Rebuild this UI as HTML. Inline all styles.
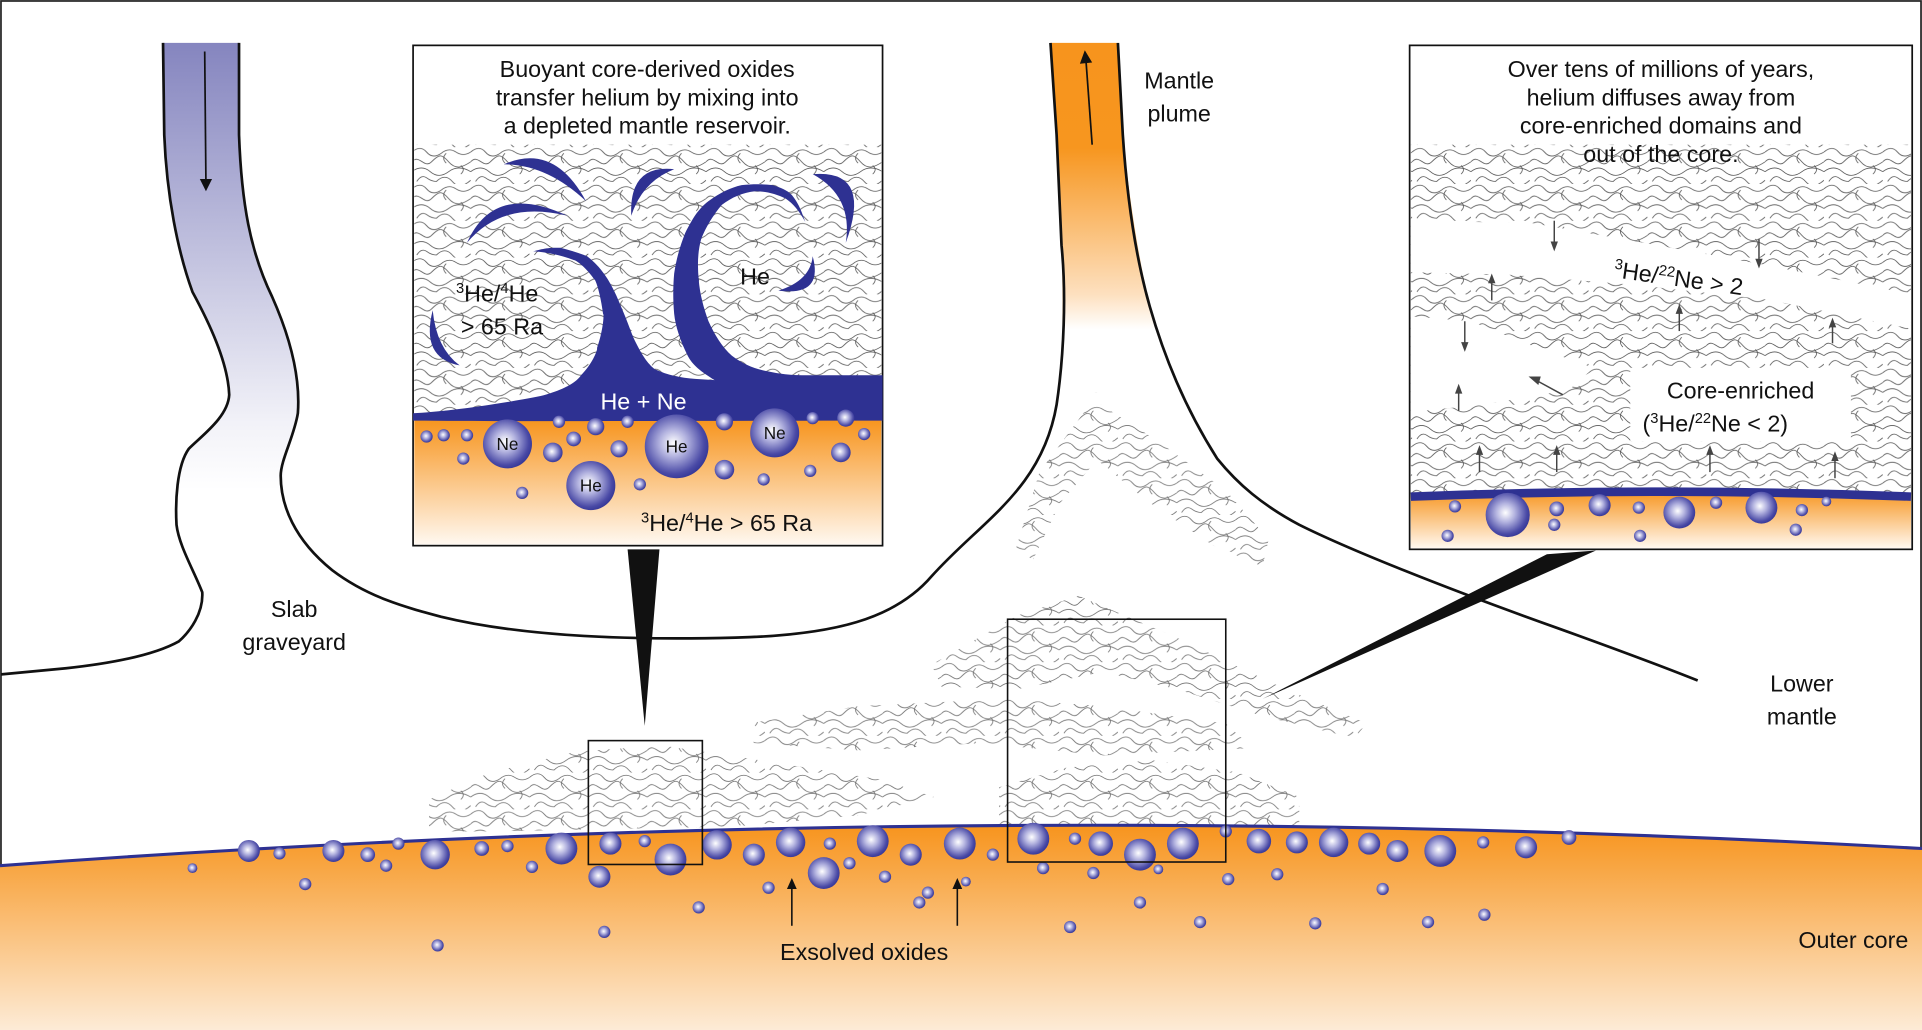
<!DOCTYPE html>
<html><head><meta charset="utf-8"><style>
html,body{margin:0;padding:0;background:#fff;}
svg{display:block;}
text{font-family:"Liberation Sans",Arial,sans-serif;fill:#111;}
</style></head><body>
<svg width="1922" height="1030" viewBox="0 0 1568 840" preserveAspectRatio="none" xmlns="http://www.w3.org/2000/svg">
<defs>
<linearGradient id="slab" x1="0" y1="0" x2="0" y2="1"><stop offset="0" stop-color="#8585bf"/><stop offset="0.85" stop-color="#f2f2f8"/><stop offset="1" stop-color="#fff"/></linearGradient>
<linearGradient id="plume" x1="0" y1="0" x2="0" y2="1"><stop offset="0" stop-color="#f7941d"/><stop offset="0.3" stop-color="#f7961f"/><stop offset="0.72" stop-color="#fde0bf"/><stop offset="0.82" stop-color="#fff"/></linearGradient>
<linearGradient id="core" x1="0" y1="0" x2="0" y2="1"><stop offset="0" stop-color="#f7941d"/><stop offset="1" stop-color="#fdebd6"/></linearGradient>
<linearGradient id="core1" x1="0" y1="0" x2="0" y2="1"><stop offset="0" stop-color="#f7941d"/><stop offset="1" stop-color="#fff8f0"/></linearGradient>
<radialGradient id="bub" cx="0.45" cy="0.45" r="0.6"><stop offset="0" stop-color="#ffffff"/><stop offset="0.35" stop-color="#b4b4e0"/><stop offset="0.8" stop-color="#4a4aa6"/><stop offset="1" stop-color="#2e3192"/></radialGradient>
<pattern id="tex" width="48" height="30" patternUnits="userSpaceOnUse">
<g fill="none" stroke="#555" stroke-width="0.65">
<path d="M0,4 q7,-6 12,0 t12,1 q6,-5 12,-1 t12,0"/>
<path d="M0,12 c6,-7 10,6 16,0 s8,-7 14,0 s12,4 18,0"/>
<path d="M0,20 q8,-6 15,0 t15,0 t18,0"/>
<path d="M4,28 q4,-6 8,-3 t8,3 q7,-7 13,0 t15,-1"/>
<path d="M28,5 q-4,4 0,8"/>
<path d="M40,15 q4,3 0,7"/>
</g></pattern>
</defs>

<rect x="0.8" y="0.8" width="1566.4" height="838.4" fill="#fff" stroke="#222" stroke-width="1.4"/>

<g fill="url(#tex)" opacity="0.85">
<path d="M879,140 L900,140 L903,320 L882,320 Z"/>
<path d="M892,326 L945,360 L1000,400 L1035,440 L1030,462 L990,445 L935,408 L895,375 L865,410 L843,456 L828,450 L848,385 Z"/>
<path d="M760,542 L830,502 L880,486 L960,520 L1040,558 L1115,590 L1105,602 L1030,584 L960,562 L900,548 L830,562 L768,560 Z"/>
<path d="M610,590 L700,576 L820,570 L900,576 L1000,590 L1022,610 L900,616 L800,606 L700,612 L615,606 Z"/>
<path d="M350,652 L400,630 L470,613 L540,608 L620,620 L720,636 L762,650 L700,665 L600,674 L400,678 L350,678 Z"/>
<path d="M815,642 L870,626 L940,620 L1010,630 L1060,650 L1060,674 L815,678 Z"/>
</g>

<!-- fills first -->
<path d="M133,35 L134,110 C136,160 145,205 157,238 C170,262 186,295 187,322 C186,340 165,355 154,366 C146,378 143,392 144,400 L232,400 C230,388 236,355 243,337 C246,315 240,285 222,242 C206,210 198,170 195,110 L195,35 Z" fill="url(#slab)"/>
<path d="M857,35 L862,110 C866,180 870,260 862,320 L960,320 C940,270 925,200 916,110 L912,35 Z" fill="url(#plume)"/>

<path d="M133,35 L134,110 C136,160 145,205 157,238 C170,262 186,295 187,322 C186,340 165,355 154,366 C144,380 143,410 144,428 C146,445 158,465 165,483 C166,500 155,515 146,523 C130,532 100,540 54,545 L1,550" fill="none" stroke="#111" stroke-width="2.2"/>
<path d="M195,35 L195,110 C197,165 204,205 222,242 C238,278 245,310 243,337 C240,356 229,375 229,388 C229,412 240,440 271,465 C300,487 330,495 360,503 C430,520 520,522 600,520 C680,518 730,505 760,470 C800,425 850,400 862,330 C868,290 870,240 866,200 L862,110 L857,35" fill="none" stroke="#111" stroke-width="2.2"/>
<path d="M912,35 L916,110 C920,170 928,215 938,250 C948,285 965,330 993,374 C1010,395 1030,412 1060,428 C1100,448 1180,480 1270,512 C1320,530 1360,545 1385,555" fill="none" stroke="#111" stroke-width="2.2"/>
<line x1="167" y1="42" x2="168" y2="148" stroke="#111" stroke-width="1.4"/>
<path d="M163,146 L168,156 L173,146 Z" fill="#111"/>
<line x1="891" y1="118" x2="886" y2="50" stroke="#111" stroke-width="1.4"/>
<path d="M881,52 L885,41 L891,51 Z" fill="#111"/>

<path d="M0,706 Q784,648 1568,692 L1568,840 L0,840 Z" fill="url(#core)"/>
<path d="M0,706 Q784,648 1568,692" fill="none" stroke="#2e3192" stroke-width="2.5"/>

<g fill="url(#bub)">
<circle cx="203" cy="694" r="9"/><circle cx="228" cy="696" r="5"/><circle cx="272" cy="694" r="9"/><circle cx="300" cy="697" r="6"/><circle cx="325" cy="688" r="5"/><circle cx="355" cy="697" r="12"/><circle cx="393" cy="692" r="6"/><circle cx="414" cy="690" r="5"/><circle cx="458" cy="692" r="13"/><circle cx="498" cy="688" r="9"/><circle cx="526" cy="686" r="5"/><circle cx="547" cy="701" r="13"/><circle cx="585" cy="689" r="12"/><circle cx="615" cy="697" r="9"/><circle cx="645" cy="687" r="12"/><circle cx="677" cy="688" r="5"/><circle cx="712" cy="686" r="13"/><circle cx="743" cy="697" r="9"/><circle cx="783" cy="688" r="13"/><circle cx="810" cy="697" r="5"/><circle cx="843" cy="684" r="13"/><circle cx="877" cy="684" r="5"/><circle cx="898" cy="688" r="10"/><circle cx="930" cy="697" r="13"/><circle cx="965" cy="688" r="13"/><circle cx="1000" cy="678" r="5"/><circle cx="1027" cy="686" r="10"/><circle cx="1058" cy="687" r="9"/><circle cx="1088" cy="687" r="12"/><circle cx="1117" cy="688" r="9"/><circle cx="1140" cy="694" r="9"/><circle cx="1175" cy="694" r="13"/><circle cx="1210" cy="687" r="5"/><circle cx="1245" cy="691" r="9"/><circle cx="1280" cy="683" r="6"/>
<circle cx="157" cy="708" r="4"/><circle cx="249" cy="721" r="5"/><circle cx="315" cy="706" r="5"/><circle cx="489" cy="715" r="9"/><circle cx="434" cy="707" r="5"/><circle cx="627" cy="724" r="5"/><circle cx="672" cy="712" r="13"/><circle cx="693" cy="704" r="5"/><circle cx="722" cy="715" r="5"/><circle cx="757" cy="728" r="5"/><circle cx="851" cy="708" r="5"/><circle cx="892" cy="712" r="5"/><circle cx="945" cy="709" r="4"/><circle cx="1002" cy="717" r="5"/><circle cx="1042" cy="713" r="5"/><circle cx="1128" cy="725" r="5"/><circle cx="1073" cy="753" r="5"/><circle cx="1165" cy="752" r="5"/><circle cx="1211" cy="746" r="5"/><circle cx="979" cy="752" r="5"/><circle cx="873" cy="756" r="5"/><circle cx="750" cy="736" r="5"/><circle cx="570" cy="740" r="5"/><circle cx="493" cy="760" r="5"/><circle cx="357" cy="771" r="5"/><circle cx="930" cy="736" r="5"/><circle cx="788" cy="719" r="4"/>
</g>

<rect x="480" y="604" width="93" height="101" fill="none" stroke="#111" stroke-width="1.3"/>
<rect x="822" y="505" width="178" height="198" fill="none" stroke="#111" stroke-width="1.3"/>
<path d="M512,448 L538,448 L526,592 Z" fill="#111"/>
<path d="M1030,570 L1262,452 L1302,449 Z" fill="#111"/>

<g stroke="#111" stroke-width="1.3"><line x1="646" y1="755" x2="646" y2="723"/><line x1="781" y1="755" x2="781" y2="723"/></g>
<path d="M642,725 L646,716 L650,725 Z M777,725 L781,716 L785,725 Z" fill="#111"/>

<g font-size="19">
<text x="240" y="503" text-anchor="middle">Slab</text>
<text x="240" y="530" text-anchor="middle">graveyard</text>
<text x="962" y="72" text-anchor="middle">Mantle</text>
<text x="962" y="99" text-anchor="middle">plume</text>
<text x="1470" y="564" text-anchor="middle">Lower</text>
<text x="1470" y="591" text-anchor="middle">mantle</text>
<text x="705" y="783" text-anchor="middle">Exsolved oxides</text>
<text x="1512" y="773" text-anchor="middle">Outer core</text>
</g>

<rect x="337" y="37" width="383" height="408" fill="#fff" stroke="#111" stroke-width="1.4"/>
<rect x="338" y="118" width="381" height="230" fill="url(#tex)"/>
<rect x="338" y="342" width="381" height="102" fill="url(#core1)"/>
<path d="M337,343 L337,337 C360,336 400,331 441,323 C460,318 470,312 474,306 C484,296 488,284 487,284 C492,270 493,256 492,256 C490,240 486,228 485,228 C478,218 470,212 468,212 C455,207 440,205 435,205 C445,202 450,202 457,202 C465,204 472,206 479,209 C488,216 492,222 496,228 C502,238 505,246 507,251 C512,262 515,272 518,278 C524,290 528,296 534,301 C545,306 555,308 567,309 L583,310 C572,303 565,298 561,290 C555,278 551,266 550,256 C549,245 549,234 550,223 C552,210 555,200 559,190 C565,178 570,170 578,164 C588,157 596,153 605,151 C614,150 622,150 630,151 C637,153 642,155 646,159 C650,164 652,168 654,173 L657,181 C652,172 647,166 641,162 C633,158 625,156 616,156 C606,157 597,161 589,167 C582,175 576,185 572,195 C569,206 569,217 570,228 C571,240 574,251 578,262 C583,273 589,283 597,290 C606,297 616,301 627,303 C636,305 645,306 654,306 L720,306 L720,343 C600,343 450,344 337,343 Z" fill="#2e3192"/>
<g fill="#2e3192">
<path d="M411,134 Q452,116 478,164 Q446,134 411,134Z"/>
<path d="M381,198 Q403,148 463,176 Q410,163 381,198Z"/>
<path d="M353,253 Q343,292 375,298 Q356,284 353,253Z"/>
<path d="M515,176 Q513,134 550,138 Q524,148 515,176Z"/>
<path d="M663,142 Q712,138 690,198 Q696,160 663,142Z"/>
<path d="M663,209 Q672,242 635,237 Q661,229 663,209Z"/>
</g>
<g fill="url(#bub)">
<circle cx="414" cy="362" r="20"/><circle cx="552" cy="364" r="26"/><circle cx="632" cy="353" r="20"/><circle cx="482" cy="396" r="20"/>
<circle cx="348" cy="356" r="5"/><circle cx="362" cy="355" r="5"/><circle cx="381" cy="355" r="5"/><circle cx="378" cy="374" r="5"/><circle cx="456" cy="344" r="5"/><circle cx="451" cy="369" r="8"/><circle cx="468" cy="358" r="6"/><circle cx="486" cy="348" r="7"/><circle cx="505" cy="366" r="7"/><circle cx="512" cy="344" r="5"/><circle cx="426" cy="402" r="5"/><circle cx="522" cy="395" r="5"/><circle cx="591" cy="344" r="7"/><circle cx="591" cy="383" r="8"/><circle cx="623" cy="391" r="5"/><circle cx="661" cy="384" r="5"/><circle cx="663" cy="341" r="5"/><circle cx="690" cy="341" r="7"/><circle cx="686" cy="369" r="8"/><circle cx="705" cy="354" r="5"/>
</g>
<g font-size="14" text-anchor="middle"><text x="414" y="367">Ne</text><text x="552" y="369">He</text><text x="632" y="358">Ne</text><text x="482" y="401">He</text></g>
<g font-size="19">
<text x="528" y="63" text-anchor="middle">Buoyant core-derived oxides</text>
<text x="528" y="86" text-anchor="middle">transfer helium by mixing into</text>
<text x="528" y="109" text-anchor="middle">a depleted mantle reservoir.</text>
<text x="372" y="246"><tspan font-size="12" dy="-7">3</tspan><tspan dy="7">He/</tspan><tspan font-size="12" dy="-7">4</tspan><tspan dy="7">He</tspan></text>
<text x="376" y="273">&gt; 65 Ra</text>
<text x="616" y="232" text-anchor="middle">He</text>
<text x="525" y="334" text-anchor="middle" style="fill:#fff">He + Ne</text>
<text x="523" y="433"><tspan font-size="12" dy="-7">3</tspan><tspan dy="7">He/</tspan><tspan font-size="12" dy="-7">4</tspan><tspan dy="7">He &gt; 65 Ra</tspan></text>
</g>

<rect x="1150" y="37" width="410" height="411" fill="#fff" stroke="#111" stroke-width="1.4"/>
<rect x="1151" y="118" width="408" height="290" fill="url(#tex)"/>
<path d="M1151,180 L1250,182 L1330,196 L1440,216 L1559,240 L1559,268 L1440,244 L1330,232 L1230,224 L1151,222 Z" fill="#fff"/>
<path d="M1151,258 L1200,262 L1250,282 L1300,300 L1280,318 L1210,330 L1151,336 Z" fill="#fff"/>
<rect x="1330" y="300" width="180" height="60" fill="#fff"/>
<path d="M1151,404 Q1355,396 1559,404 L1559,447 L1151,447 Z" fill="url(#core1)"/>
<path d="M1151,405 Q1355,397 1559,405" fill="none" stroke="#2e3192" stroke-width="7"/>
<g fill="url(#bub)">
<circle cx="1187" cy="413" r="5"/><circle cx="1230" cy="420" r="18"/><circle cx="1270" cy="415" r="6"/><circle cx="1305" cy="412" r="9"/><circle cx="1337" cy="414" r="5"/><circle cx="1370" cy="418" r="13"/><circle cx="1400" cy="410" r="5"/><circle cx="1437" cy="414" r="13"/><circle cx="1470" cy="416" r="5"/><circle cx="1181" cy="437" r="5"/><circle cx="1268" cy="428" r="5"/><circle cx="1338" cy="437" r="5"/><circle cx="1465" cy="432" r="5"/><circle cx="1490" cy="409" r="4"/>
</g>
<g stroke="#444" stroke-width="1.2" fill="none">
<path d="M1217,245 L1217,230"/><path d="M1268,180 L1268,198"/><path d="M1195,262 L1195,280"/><path d="M1275,322 L1253,310"/><path d="M1190,335 L1190,320"/><path d="M1370,270 L1370,255"/><path d="M1495,280 L1495,266"/><path d="M1435,195 L1435,212"/><path d="M1207,385 L1207,370"/><path d="M1270,385 L1270,370"/><path d="M1395,385 L1395,370"/><path d="M1497,390 L1497,375"/>
</g>
<g fill="#444">
<path d="M1214,231 L1217,223 L1220,231Z"/><path d="M1265,197 L1268,205 L1271,197Z"/><path d="M1192,279 L1195,287 L1198,279Z"/><path d="M1255,314 L1247,307 L1257,307Z"/><path d="M1187,321 L1190,313 L1193,321Z"/><path d="M1367,256 L1370,248 L1373,256Z"/><path d="M1492,267 L1495,259 L1498,267Z"/><path d="M1432,211 L1435,219 L1438,211Z"/><path d="M1204,371 L1207,363 L1210,371Z"/><path d="M1267,371 L1270,363 L1273,371Z"/><path d="M1392,371 L1395,363 L1398,371Z"/><path d="M1494,376 L1497,368 L1500,376Z"/>
</g>
<g font-size="19">
<text x="1355" y="63" text-anchor="middle">Over tens of millions of years,</text>
<text x="1355" y="86" text-anchor="middle">helium diffuses away from</text>
<text x="1355" y="109" text-anchor="middle">core-enriched domains and</text>
<text x="1355" y="132" text-anchor="middle">out of the core.</text>
<text transform="translate(1316,226) rotate(8)"><tspan font-size="12" dy="-7">3</tspan><tspan dy="7">He/</tspan><tspan font-size="12" dy="-7">22</tspan><tspan dy="7">Ne &gt; 2</tspan></text>
<text x="1420" y="325" text-anchor="middle">Core-enriched</text>
<text x="1340" y="352">(<tspan font-size="12" dy="-7">3</tspan><tspan dy="7">He/</tspan><tspan font-size="12" dy="-7">22</tspan><tspan dy="7">Ne &lt; 2)</tspan></text>
</g>
</svg>
</body></html>
